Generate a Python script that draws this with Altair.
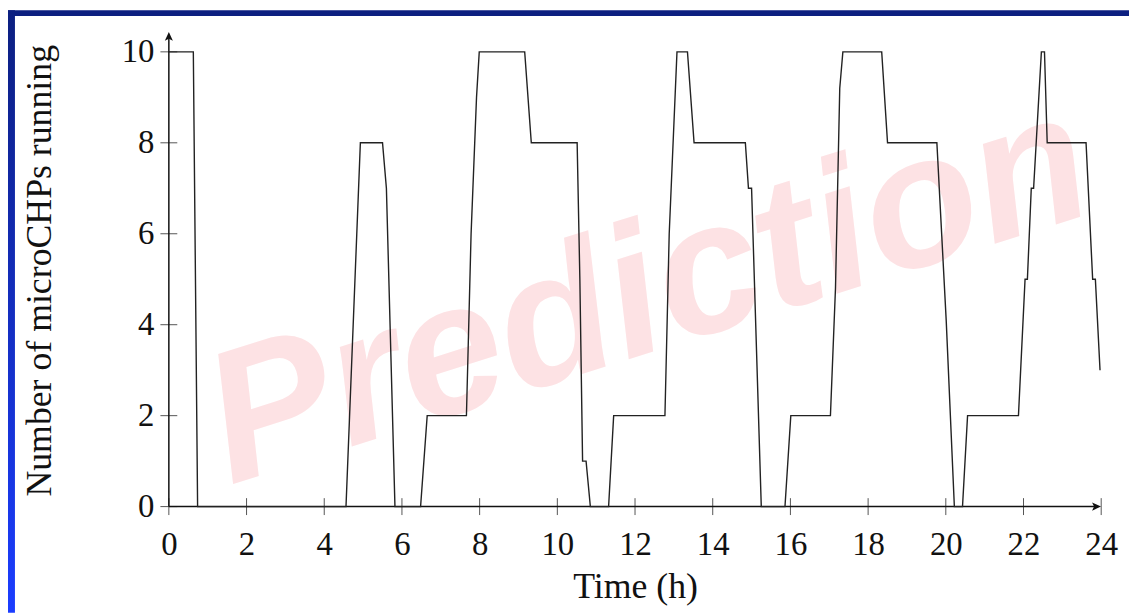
import altair as alt
import pandas as pd

# ---- data ----
time_h = [0.0, 0.63, 0.74, 4.56, 4.93, 5.50, 5.60, 5.82, 6.48, 6.65,
          7.66, 7.78, 7.92, 7.99, 9.16, 9.33, 10.51, 10.58, 10.65, 10.74, 10.85,
          11.32, 11.45, 12.77, 12.88, 13.08, 13.35, 13.52, 14.84, 14.92, 15.00,
          15.25, 15.86, 16.01, 17.03, 17.16, 17.27, 17.35, 18.35, 18.50, 19.77,
          20.01, 20.22, 20.43, 20.56, 21.87, 22.04, 22.10, 22.20, 22.26, 22.46,
          22.54, 22.61, 23.61, 23.78, 23.85, 23.97]
running = [10, 10, 0, 0, 8, 8, 7, 0, 0, 2,
           2, 6, 9, 10, 10, 8, 8, 5, 1, 1, 0,
           0, 2, 2, 6, 10, 10, 8, 8, 7, 7,
           0, 0, 2, 2, 4.8, 9.2, 10, 10, 8, 8,
           4.1, 0, 0, 2, 2, 5, 5, 7, 7, 10,
           10, 8, 8, 5, 5, 3]

x_ticks = list(range(0, 25, 2))
y_ticks = [0, 2, 4, 6, 8, 10]
x_axis_end = [23.9]
y_axis_end = [10.3]
x_arrow_at = [23.88]
y_arrow_at = [10.34]
watermark = ["Prediction"]

W, H = 939, 458
PAD = {"left": 162, "top": 42, "right": 28, "bottom": 107}

xs = alt.Scale(domain=[0, 24], nice=False, zero=False)
ys = alt.Scale(domain=[0, 10], nice=False, zero=False)

serif = "Liberation Serif"

x_axis = alt.Axis(
    values=x_ticks, title="Time (h)", ticks=False, tickSize=0, domain=False, grid=False,
    labelFont=serif, labelFontSize=33, labelColor="#111111", labelPadding=22,
    labelBaseline="top", labelFlush=False, labelOverlap=False,
    titleFont=serif, titleFontSize=36, titleFontWeight="normal", titleColor="#111111",
    titleX=W / 2, titleY=92, titleBaseline="alphabetic", titleAlign="center")
y_axis = alt.Axis(
    values=y_ticks, title="Number of microCHPs running", ticks=False, tickSize=0,
    domain=False, grid=False,
    labelFont=serif, labelFontSize=33, labelColor="#111111", labelPadding=15,
    labelAlign="right", labelBaseline="middle", labelFlush=False, labelOverlap=False,
    titleFont=serif, titleFontSize=36, titleFontWeight="normal", titleColor="#111111",
    titleAngle=270, titleX=-119, titleY=220, titleBaseline="alphabetic",
    titleAlign="center")

df = pd.DataFrame({"t": time_h, "n": running})

line = alt.Chart(df).mark_line(color="#222222", strokeWidth=1.4).encode(
    x=alt.X("t:Q", scale=xs, axis=x_axis),
    y=alt.Y("n:Q", scale=ys, axis=y_axis),
)

one = pd.DataFrame({"a": [0]})

wm = alt.Chart(pd.DataFrame({"w": watermark})).mark_text(
    font="Liberation Sans",
    fontSize=188, fontWeight="bold", fontStyle="italic",
    color="#fde2e4", angle=342.5, align="center", baseline="alphabetic",
).encode(text="w:N", x=alt.value(500), y=alt.value(298))

top_band = alt.Chart(one).mark_rect(color="#0c1f80").encode(
    x=alt.value(-PAD["left"]), x2=alt.value(W + PAD["right"]),
    y=alt.value(-PAD["top"]), y2=alt.value(-PAD["top"] + 6))

grad = alt.Gradient(gradient="linear",
                    stops=[alt.GradientStop(color="#0c1f80", offset=0),
                           alt.GradientStop(color="#1b3dff", offset=1)],
                    x1=0, x2=0, y1=0, y2=1)
left_band = alt.Chart(one).mark_rect(fill=grad).encode(
    x=alt.value(-PAD["left"]), x2=alt.value(-PAD["left"] + 7),
    y=alt.value(-PAD["top"]), y2=alt.value(H + PAD["bottom"]))

xt = alt.Chart(pd.DataFrame({"t": x_ticks})).mark_rule(color="#555555", strokeWidth=1).encode(
    x=alt.X("t:Q", scale=xs, axis=x_axis), y=alt.value(H - 8.5), y2=alt.value(H + 8.5))
yt = alt.Chart(pd.DataFrame({"n": y_ticks})).mark_rule(color="#555555", strokeWidth=1).encode(
    y=alt.Y("n:Q", scale=ys, axis=y_axis), x=alt.value(-8.5), x2=alt.value(8.5))

x_line = alt.Chart(pd.DataFrame({"t": [0], "e": x_axis_end})).mark_rule(
    color="#111111", strokeWidth=1.5).encode(
    x=alt.X("t:Q", scale=xs, axis=x_axis), x2="e:Q", y=alt.value(H))
y_line = alt.Chart(pd.DataFrame({"n": [0], "e": y_axis_end})).mark_rule(
    color="#111111", strokeWidth=1.5).encode(
    y=alt.Y("n:Q", scale=ys, axis=y_axis), y2="e:Q", x=alt.value(0))

x_arrow = alt.Chart(pd.DataFrame({"t": x_arrow_at})).mark_point(
    shape="M1,0L-1,-0.9L-0.55,0L-1,0.9Z", size=81, filled=True, color="#111111", opacity=1
).encode(x=alt.X("t:Q", scale=xs, axis=x_axis), y=alt.value(H))
y_arrow = alt.Chart(pd.DataFrame({"n": y_arrow_at})).mark_point(
    shape="M0,-1L-0.9,1L0,0.55L0.9,1Z", size=81, filled=True, color="#111111", opacity=1
).encode(y=alt.Y("n:Q", scale=ys, axis=y_axis), x=alt.value(0))

chart = alt.layer(
    wm, top_band, left_band, xt, yt, x_line, y_line, line, x_arrow, y_arrow
).properties(
    width=W, height=H, padding=PAD,
    autosize=alt.AutoSizeParams(type="none"),
    background="white",
).configure_view(stroke=None)

chart.save("out.html", embed_options={"renderer": "svg", "actions": False})
